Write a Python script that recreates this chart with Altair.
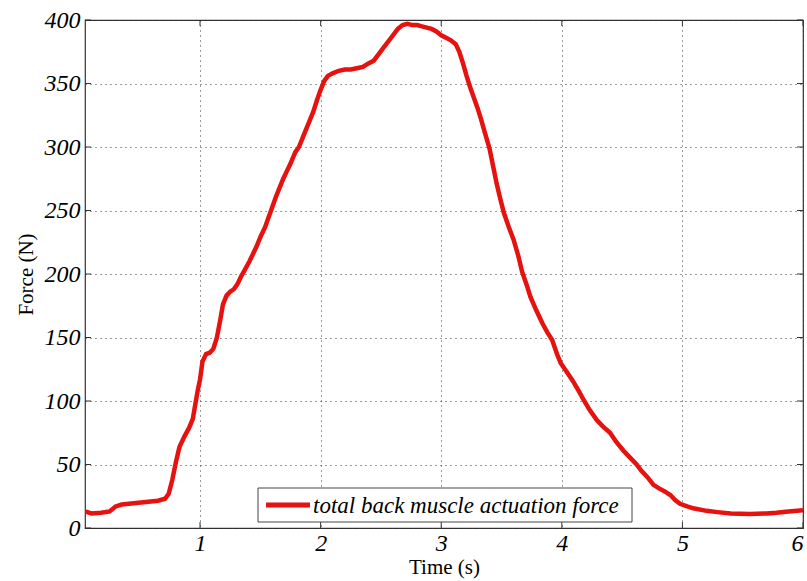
import altair as alt
import pandas as pd

# Total back muscle actuation force over time
time_s = [
    0.046, 0.10, 0.18, 0.25, 0.30, 0.35, 0.45, 0.55, 0.65, 0.71, 0.74, 0.77, 0.80,
    0.83, 0.87, 0.91, 0.94, 0.96, 0.98, 1.00, 1.02, 1.05, 1.08, 1.11, 1.14, 1.17,
    1.19, 1.22, 1.25, 1.28, 1.31, 1.34, 1.37, 1.41, 1.44, 1.47, 1.50, 1.54, 1.57,
    1.60, 1.63, 1.66, 1.69, 1.72, 1.75, 1.79, 1.82, 1.85, 1.88, 1.91, 1.94, 1.97,
    2.00, 2.03, 2.06, 2.10, 2.15, 2.20, 2.25, 2.30, 2.35, 2.40, 2.44, 2.48, 2.52,
    2.56, 2.60, 2.64, 2.68, 2.72, 2.76, 2.80, 2.84, 2.88,
    2.92, 2.96, 3.00, 3.04, 3.08, 3.12, 3.15, 3.18, 3.21, 3.24, 3.27, 3.30,
    3.33, 3.36, 3.40, 3.43, 3.46, 3.49, 3.52, 3.56, 3.60, 3.64, 3.67, 3.71, 3.74,
    3.79, 3.84, 3.88, 3.92, 3.96, 3.99, 4.04, 4.09, 4.14, 4.18, 4.23, 4.29, 4.34,
    4.40, 4.45, 4.51, 4.56, 4.62, 4.66, 4.71, 4.76, 4.81, 4.85, 4.90, 4.94, 4.98,
    5.04, 5.09, 5.20, 5.29, 5.40, 5.56, 5.70, 5.78, 5.88, 6.00,
]
force_n = [
    13, 11.5, 12, 13, 17, 18.5, 19.5, 20.5, 21.5, 23, 27, 38, 52,
    64, 72, 79, 86, 97, 108, 117, 131, 137, 138, 141, 150, 165,
    176, 183, 186, 188, 192, 198, 203, 210, 216, 222, 229, 237, 245,
    253, 261, 268, 275, 281, 287, 296, 300, 307, 314, 321, 328, 337,
    345, 352, 356, 358, 360, 361, 361, 362, 363, 366, 368, 373, 378,
    383, 388, 393, 396, 397, 396, 396, 395, 394,
    393, 391, 388, 386, 384, 381, 375, 366, 356, 347, 339, 331,
    322, 312, 299, 285, 271, 259, 248, 237, 227, 214, 202, 191, 182,
    171, 161, 154, 148, 137, 130, 123, 116, 108, 101, 93, 85, 80,
    75, 68, 61, 56, 50, 45, 40, 34, 31, 29, 26, 22, 19,
    17, 15.5, 13.5, 12.5, 11.5, 11, 11.5, 12, 13, 14,
]
series_name = "total back muscle actuation force"

x_ticks = [1, 2, 3, 4, 5, 6]
y_ticks = [0, 50, 100, 150, 200, 250, 300, 350, 400]

W, H = 718, 508
RED = "#e5120f"
SERIF = "Liberation Serif"

df = pd.DataFrame({"t": time_s, "f": force_n})
xt = pd.DataFrame({"t": x_ticks})
yt = pd.DataFrame({"f": y_ticks})
leg = pd.DataFrame({"name": [series_name]})

x_scale = alt.Scale(domain=[0.046, 6], nice=False, zero=False)
y_scale = alt.Scale(domain=[0, 400], nice=False)

x_axis = alt.Axis(
    values=x_ticks, format="d", title="Time (s)", grid=True, tickSize=0, domain=False,
    labelFont=SERIF, labelFontStyle="italic", labelFontSize=24, labelColor="#000",
    labelPadding=3, titleFont=SERIF, titleFontSize=21, titleFontWeight="normal",
    titleColor="#000", titlePadding=1,
)
y_axis = alt.Axis(
    values=y_ticks, format="d", title="Force (N)", grid=True, tickSize=0, domain=False,
    labelFont=SERIF, labelFontStyle="italic", labelFontSize=24, labelColor="#000",
    labelPadding=5, titleFont=SERIF, titleFontSize=21, titleFontWeight="normal",
    titleColor="#000", titlePadding=8,
)

line = alt.Chart(df).mark_line(strokeWidth=4.5, clip=True, color=RED).encode(
    x=alt.X("t:Q", scale=x_scale, axis=x_axis),
    y=alt.Y("f:Q", scale=y_scale, axis=y_axis),
)

tick_style = dict(color="#333", strokeWidth=1)
bottom_ticks = alt.Chart(xt).mark_rule(**tick_style).encode(
    x=alt.X("t:Q", scale=x_scale), y=alt.value(H), y2=alt.value(H - 6)
)
top_ticks = alt.Chart(xt).mark_rule(**tick_style).encode(
    x=alt.X("t:Q", scale=x_scale), y=alt.value(0), y2=alt.value(6)
)
left_ticks = alt.Chart(yt).mark_rule(**tick_style).encode(
    y=alt.Y("f:Q", scale=y_scale), x=alt.value(0), x2=alt.value(6)
)
right_ticks = alt.Chart(yt).mark_rule(**tick_style).encode(
    y=alt.Y("f:Q", scale=y_scale), x=alt.value(W), x2=alt.value(W - 6)
)

# Legend box drawn inside the plot area, near the bottom
legend_box = alt.Chart(leg).mark_rect(fill="white", stroke="#444", strokeWidth=1).encode(
    x=alt.value(173), x2=alt.value(547), y=alt.value(468), y2=alt.value(502)
)
legend_swatch = alt.Chart(leg).mark_rule(color=RED, strokeWidth=5).encode(
    x=alt.value(181), x2=alt.value(225), y=alt.value(485)
)
legend_text = alt.Chart(leg).mark_text(
    align="left", baseline="middle", font=SERIF, fontStyle="italic",
    fontSize=23, color="#000",
).encode(x=alt.value(228), y=alt.value(486), text="name:N")

chart = (
    alt.layer(bottom_ticks, top_ticks, left_ticks, right_ticks, line,
              legend_box, legend_swatch, legend_text)
    .properties(
        width=W, height=H, background="white",
        autosize=alt.AutoSizeParams(type="none"),
        padding={"left": 85, "top": 20, "right": 4, "bottom": 53},
    )
    .configure_view(stroke="#333", strokeWidth=1.2)
    .configure_axis(gridColor="#222", gridDash=[1, 4], gridOpacity=0.9, gridWidth=1)
)

chart.save("out.html", embed_options={"renderer": "svg", "actions": False})
